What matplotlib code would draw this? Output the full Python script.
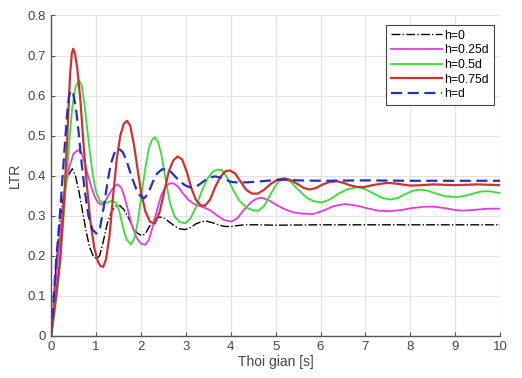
import matplotlib

matplotlib.use("Agg")
import matplotlib.pyplot as plt

# h = 0
t_h0 = [0, 0.1, 0.2, 0.3, 0.38, 0.47, 0.54, 0.62, 0.7, 0.78, 0.86, 0.94, 1.01, 1.08, 1.16,
        1.25, 1.35, 1.44, 1.53, 1.62, 1.72, 1.82, 1.92, 2.02, 2.1, 2.2, 2.3, 2.4, 2.5, 2.62,
        2.75, 2.86, 2.98, 3.1, 3.22, 3.35, 3.47, 3.6, 3.75, 3.87, 3.99, 4.15, 4.3, 4.6, 5, 6,
        7, 8, 9, 10]
v_h0 = [0, 0.16, 0.29, 0.37, 0.4, 0.417, 0.4, 0.36, 0.31, 0.26, 0.22, 0.198, 0.192, 0.2, 0.235,
        0.28, 0.312, 0.324, 0.325, 0.315, 0.295, 0.272, 0.256, 0.25, 0.255, 0.275, 0.29, 0.296,
        0.295, 0.285, 0.274, 0.267, 0.265, 0.27, 0.279, 0.285, 0.286, 0.282, 0.276, 0.273,
        0.2725, 0.275, 0.277, 0.277, 0.276, 0.277, 0.277, 0.277, 0.277, 0.277]

# h = 0.25d
t_h025 = [0, 0.1, 0.2, 0.3, 0.4, 0.5, 0.6, 0.67, 0.74, 0.82, 0.9, 0.98, 1.05, 1.12, 1.2, 1.3,
          1.4, 1.48, 1.56, 1.64, 1.72, 1.8, 1.9, 2.0, 2.1, 2.18, 2.27, 2.36, 2.45, 2.55, 2.63,
          2.72, 2.82, 2.92, 3.05, 3.2, 3.39, 3.55, 3.7, 3.85, 4.02, 4.15, 4.3, 4.45, 4.57, 4.69,
          4.85, 5.0, 5.2, 5.4, 5.6, 5.84, 6.05, 6.3, 6.55, 6.8, 7.05, 7.3, 7.55, 7.8, 8.05, 8.3,
          8.51, 8.75, 9.0, 9.18, 9.4, 9.7, 10]
v_h025 = [0, 0.13, 0.25, 0.36, 0.42, 0.455, 0.464, 0.458, 0.435, 0.4, 0.37, 0.345, 0.332, 0.327,
          0.335, 0.355, 0.372, 0.378, 0.37, 0.345, 0.31, 0.275, 0.245, 0.23, 0.227, 0.24, 0.275,
          0.315, 0.35, 0.372, 0.38, 0.381, 0.373, 0.358, 0.34, 0.328, 0.321, 0.313, 0.3, 0.289,
          0.285, 0.294, 0.315, 0.333, 0.342, 0.345, 0.338, 0.328, 0.316, 0.308, 0.305, 0.304,
          0.312, 0.324, 0.329, 0.325, 0.318, 0.312, 0.311, 0.314, 0.319, 0.322, 0.3225, 0.319,
          0.314, 0.3125, 0.314, 0.317, 0.3175]

# h = 0.5d
t_h05 = [0, 0.1, 0.2, 0.3, 0.4, 0.47, 0.54, 0.62, 0.68, 0.74, 0.8, 0.86, 0.93, 1.0, 1.08, 1.16,
         1.25, 1.35, 1.45, 1.52, 1.6, 1.68, 1.78, 1.86, 1.94, 2.02, 2.1, 2.18, 2.25, 2.31, 2.38,
         2.46, 2.55, 2.65, 2.75, 2.86, 2.98, 3.1, 3.22, 3.35, 3.48, 3.6, 3.7, 3.8, 3.92, 4.05,
         4.2, 4.35, 4.5, 4.62, 4.75, 4.88, 5.0, 5.1, 5.21, 5.35, 5.5, 5.7, 5.85, 6.03, 6.2, 6.4,
         6.6, 6.81, 7.0, 7.2, 7.38, 7.55, 7.72, 7.9, 8.05, 8.22, 8.4, 8.6, 8.8, 9.03, 9.2, 9.4,
         9.57, 9.73, 9.87, 10]
v_h05 = [0, 0.08, 0.18, 0.33, 0.48, 0.57, 0.62, 0.638, 0.625, 0.58, 0.52, 0.46, 0.4, 0.36,
         0.338, 0.33, 0.333, 0.337, 0.332, 0.31, 0.27, 0.24, 0.228, 0.245, 0.29, 0.36, 0.42, 0.47,
         0.49, 0.496, 0.485, 0.45, 0.39, 0.33, 0.298, 0.284, 0.281, 0.292, 0.32, 0.36, 0.392,
         0.41, 0.415, 0.414, 0.395, 0.365, 0.336, 0.32, 0.313, 0.312, 0.325, 0.352, 0.375, 0.388,
         0.392, 0.383, 0.365, 0.344, 0.336, 0.333, 0.34, 0.355, 0.366, 0.371, 0.366, 0.354,
         0.344, 0.34, 0.344, 0.354, 0.362, 0.365, 0.362, 0.354, 0.348, 0.346, 0.349, 0.355, 0.36,
         0.361, 0.359, 0.356]

# h = 0.75d
t_h075 = [0, 0.1, 0.2, 0.3, 0.36, 0.42, 0.46, 0.49, 0.53, 0.58, 0.65, 0.72, 0.8, 0.88, 0.96,
          1.04, 1.1, 1.16, 1.22, 1.3, 1.38, 1.46, 1.54, 1.62, 1.69, 1.76, 1.84, 1.92, 2.0, 2.1,
          2.2, 2.31, 2.42, 2.52, 2.62, 2.72, 2.82, 2.92, 3.02, 3.12, 3.22, 3.33, 3.43, 3.54, 3.65,
          3.76, 3.87, 3.98, 4.1, 4.22, 4.34, 4.47, 4.6, 4.75, 4.9, 5.05, 5.2, 5.35, 5.5, 5.63,
          5.77, 5.92, 6.05, 6.2, 6.36, 6.5, 6.65, 6.8, 6.95, 7.2, 7.5, 7.75, 8.0, 8.25, 8.5, 8.75,
          9.0, 9.25, 9.5, 9.75, 10]
v_h075 = [0, 0.09, 0.19, 0.36, 0.5, 0.65, 0.705, 0.717, 0.705, 0.67, 0.59, 0.48, 0.37, 0.28,
          0.22, 0.185, 0.174, 0.172, 0.19, 0.25, 0.35, 0.44, 0.5, 0.53, 0.537, 0.525, 0.48, 0.42,
          0.36, 0.31, 0.285, 0.28, 0.31, 0.36, 0.41, 0.438, 0.448, 0.44, 0.41, 0.37, 0.34, 0.326,
          0.325, 0.34, 0.37, 0.395, 0.41, 0.413, 0.405, 0.385, 0.365, 0.355, 0.355, 0.365, 0.38,
          0.39, 0.393, 0.388, 0.378, 0.369, 0.365, 0.37, 0.378, 0.384, 0.386, 0.382, 0.376, 0.372,
          0.371, 0.377, 0.382, 0.379, 0.375, 0.376, 0.378, 0.377, 0.376, 0.377, 0.378, 0.377,
          0.376]

# h = d
t_hd = [0, 0.1, 0.2, 0.3, 0.36, 0.4, 0.44, 0.49, 0.55, 0.61, 0.68, 0.75, 0.83, 0.92, 1.01, 1.09,
        1.17, 1.25, 1.33, 1.42, 1.51, 1.6, 1.7, 1.8, 1.9, 1.98, 2.07, 2.16, 2.26, 2.36, 2.46,
        2.56, 2.66, 2.76, 2.86, 2.98, 3.08, 3.16, 3.28, 3.4, 3.52, 3.65, 3.78, 3.9, 4.02, 4.15,
        4.35, 4.6, 4.9, 5.17, 5.5, 6, 7, 8, 9, 10]
v_hd = [0, 0.17, 0.31, 0.47, 0.56, 0.6, 0.613, 0.605, 0.57, 0.51, 0.43, 0.36, 0.3, 0.265, 0.255,
        0.27, 0.32, 0.38, 0.43, 0.46, 0.467, 0.458, 0.43, 0.395, 0.365, 0.35, 0.343, 0.355,
        0.383, 0.405, 0.415, 0.417, 0.41, 0.398, 0.386, 0.376, 0.371, 0.37, 0.376, 0.386, 0.395,
        0.398, 0.395, 0.389, 0.384, 0.383, 0.383, 0.385, 0.388, 0.39, 0.388, 0.387, 0.388,
        0.387, 0.387, 0.387]

plt.rcParams["font.family"] = ["Liberation Sans", "DejaVu Sans"]

fig = plt.figure(figsize=(5.22, 3.78), dpi=100)
ax = fig.add_axes([0.098, 0.112, 0.860, 0.847])

ax.plot(t_h0, v_h0, color="black", lw=1.0, ls="-.", label="h=0")
ax.plot(t_h025, v_h025, color="#e03ce0", lw=1.3, label="h=0.25d")
ax.plot(t_h05, v_h05, color="#33e033", lw=1.3, label="h=0.5d")
ax.plot(t_h075, v_h075, color="#d03030", lw=1.6, label="h=0.75d")
ax.plot(t_hd, v_hd, color="#2233bb", lw=1.6, ls=(0, (5, 2.5)), label="h=d")

ax.set_xlim(0, 10)
ax.set_ylim(0, 0.8)
ax.set_xticks(range(0, 11))
ax.set_yticks([0, 0.1, 0.2, 0.3, 0.4, 0.5, 0.6, 0.7, 0.8])
ax.set_yticklabels(["0", "0.1", "0.2", "0.3", "0.4", "0.5", "0.6", "0.7", "0.8"])
ax.grid(True, color="#e3e3e3", lw=0.8)
ax.set_axisbelow(True)
for side in ("top", "right"):
    ax.spines[side].set_visible(False)
for side in ("left", "bottom"):
    ax.spines[side].set_color("#555555")
    ax.spines[side].set_linewidth(1.0)
ax.tick_params(direction="in", length=3, colors="#555555", labelsize=9.5, labelcolor="#444444")
ax.set_xlabel("Thoi gian [s]", fontsize=10, color="#444444", labelpad=2)
ax.set_ylabel("LTR", fontsize=10, color="#444444", labelpad=4)

leg = ax.legend(loc="upper right", bbox_to_anchor=(1.0, 0.99), fontsize=8.8,
                fancybox=False, framealpha=1, edgecolor="#444444", handlelength=4.2,
                handletextpad=0.2, borderpad=0.4, labelspacing=0.22)
leg.get_frame().set_linewidth(0.8)

fig.savefig("out.png", dpi=100)
